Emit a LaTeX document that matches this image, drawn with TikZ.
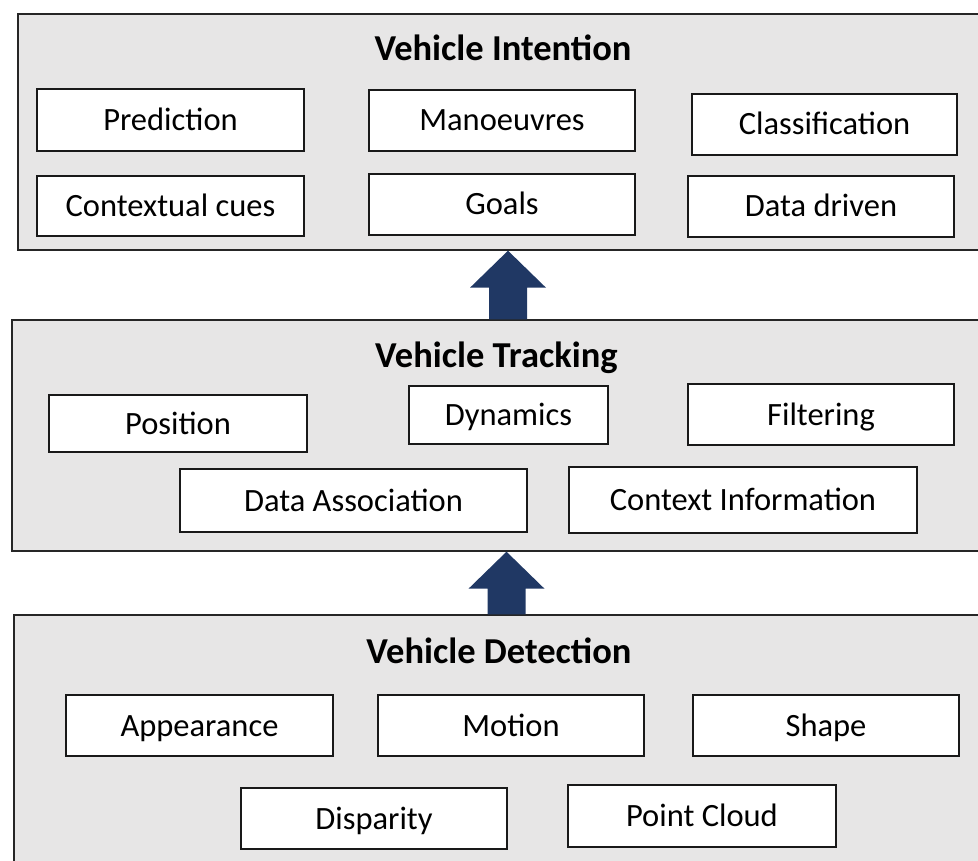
\documentclass[tikz,border=0pt]{standalone}
\usepackage{fontspec}
\setmainfont{Carlito}
\usetikzlibrary{calc}
\definecolor{panelgray}{HTML}{E7E6E6}
\definecolor{navy}{HTML}{203864}
\tikzset{
  panel/.style={draw=black!85, line width=1.4pt, fill=panelgray, rectangle, inner sep=0pt},
  itembox/.style={draw=black!90, line width=1.6pt, fill=white, rectangle, inner sep=0pt,
    font=\fontsize{32.5}{36}\selectfont, text height=21pt, text depth=0pt},
  paneltitle/.style={font=\fontsize{36.5}{40}\selectfont\bfseries, inner sep=0pt,
    text height=23pt, text depth=0pt},
  bigarrow/.style={fill=navy, draw=none}
}
\begin{document}
\begin{tikzpicture}[x=1pt,y=-1pt]
\useasboundingbox (0,0) rectangle (978,861);
\clip (0,0) rectangle (978,861);
% panels
\node[panel, minimum width=982pt, minimum height=236pt] (intent) at (509,132) {};
\node[panel, minimum width=988pt, minimum height=231pt] (track) at (506,435.5) {};
\node[panel, minimum width=986pt, minimum height=265pt] (detect) at (507,747.5) {};
% titles
\node[paneltitle] (tI) at (503,49) {Vehicle Intention};
\node[paneltitle] (tT) at (496.5,356) {Vehicle Tracking};
\node[paneltitle] (tD) at (499,652) {Vehicle Detection};
% intention boxes
\node[itembox, minimum width=267pt, minimum height=62pt] (pred) at (170.5,120) {Prediction};
\node[itembox, minimum width=267pt, minimum height=60pt] (ctx) at (170.5,206) {Contextual cues};
\node[itembox, minimum width=266pt, minimum height=61pt] (man) at (502,120.5) {Manoeuvres};
\node[itembox, minimum width=266pt, minimum height=61pt] (goals) at (502,204.5) {Goals};
\node[itembox, minimum width=265pt, minimum height=61pt] (cls) at (824.5,124.5) {Classification};
\node[itembox, minimum width=266pt, minimum height=61pt] (dd) at (821,206.5) {Data driven};
% tracking boxes
\node[itembox, minimum width=258pt, minimum height=57pt] (pos) at (178,423.5) {Position};
\node[itembox, minimum width=199pt, minimum height=58pt] (dyn) at (508.5,415) {Dynamics};
\node[itembox, minimum width=266pt, minimum height=61pt] (filt) at (821,414.5) {Filtering};
\node[itembox, minimum width=347pt, minimum height=63pt] (da) at (353.5,500.5) {Data Association};
\node[itembox, minimum width=348pt, minimum height=66pt] (ci) at (743,500) {Context Information};
% detection boxes
\node[itembox, minimum width=267pt, minimum height=61pt] (app) at (199.5,725.5) {Appearance};
\node[itembox, minimum width=266pt, minimum height=61pt] (mot) at (511,725.5) {Motion};
\node[itembox, minimum width=266pt, minimum height=61pt] (shp) at (826,725.5) {Shape};
\node[itembox, minimum width=266pt, minimum height=61pt] (disp) at (374,818.5) {Disparity};
\node[itembox, minimum width=268pt, minimum height=62pt] (pc) at (702,816) {Point Cloud};
% arrows
\coordinate (ax1) at (508,0);
\coordinate (ax2) at (506.5,0);
\coordinate (b1) at (ax1 |- track.north);
\coordinate (t1) at (ax1 |- intent.south);
\coordinate (b2) at (ax2 |- detect.north);
\coordinate (t2) at (ax2 |- track.south);
\fill[bigarrow] ($(b1)+(-19,0)$) -- ($(t1)+(-19,37)$) -- ($(t1)+(-38,37)$) -- (t1)
  -- ($(t1)+(38,37)$) -- ($(t1)+(19,37)$) -- ($(b1)+(19,0)$) -- cycle;
\fill[bigarrow] ($(b2)+(-19,0)$) -- ($(t2)+(-19,37)$) -- ($(t2)+(-38,37)$) -- (t2)
  -- ($(t2)+(38,37)$) -- ($(t2)+(19,37)$) -- ($(b2)+(19,0)$) -- cycle;
\end{tikzpicture}
\end{document}
